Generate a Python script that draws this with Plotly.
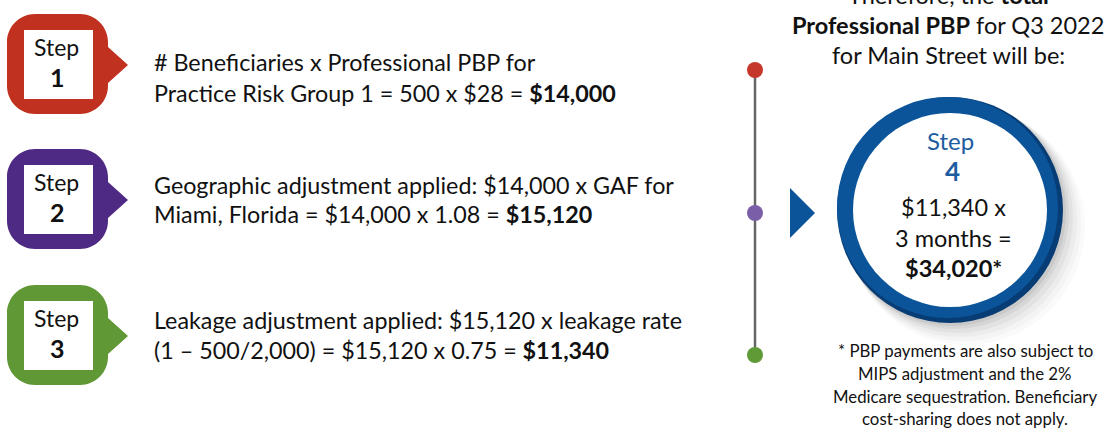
import plotly.graph_objects as go

# ---- content ----
step_numbers = ["1", "2", "3"]
step_colors = ["#c0311f", "#4f2a84", "#5f9834"]
dot_colors = ["#c4372a", "#7b5ea8", "#5f9a36"]
step_line1 = [
    "# Beneficiaries x Professional PBP for",
    "Geographic adjustment applied: $14,000 x GAF for",
    "Leakage adjustment applied: $15,120 x leakage rate",
]
step_line2 = [
    "Practice Risk Group 1 = 500 x $28 = <b>$14,000</b>",
    "Miami, Florida = $14,000 x 1.08 = <b>$15,120</b>",
    "(1 \u2013 500/2,000) = $15,120 x 0.75 = <b>$11,340</b>",
]
header_lines = [
    "Therefore, the <b>total</b>",
    "<b>Professional PBP</b> for Q3 2022",
    "for Main Street will be:",
]
circle_title = "Step"
circle_number = "4"
circle_lines = ["$11,340 x", "3 months =", "<b>$34,020*</b>"]
footnote_lines = [
    "* PBP payments are also subject to",
    "MIPS adjustment and the 2%",
    "Medicare sequestration. Beneficiary",
    "cost-sharing does not apply.",
]

W, H = 1107, 429
FONT = "Lato"
BLUE = "#0b5499"

fig = go.Figure()
shapes = []
ann = []


def rounded_badge(x0, y0, x1, y1, r, tipx, tipy, half):
    k = 0.55 * r
    p = (
        f"M {x0+r},{y0} L {x1-r},{y0} "
        f"C {x1-r+k},{y0} {x1},{y0+r-k} {x1},{y0+r} "
        f"L {x1},{tipy-half} L {tipx},{tipy} L {x1},{tipy+half} "
        f"L {x1},{y1-r} "
        f"C {x1},{y1-r+k} {x1-r+k},{y1} {x1-r},{y1} "
        f"L {x0+r},{y1} "
        f"C {x0+r-k},{y1} {x0},{y1-r+k} {x0},{y1-r} "
        f"L {x0},{y0+r} "
        f"C {x0},{y0+r-k} {x0+r-k},{y0} {x0+r},{y0} Z"
    )
    return p


centers = [64, 199, 335]
text_rows = [(62, 93), (185, 214), (320, 350)]
for i, num in enumerate(step_numbers):
    cy = centers[i]
    x0, x1 = 7, 108
    y0, y1 = cy - 50, cy + 50
    shapes.append(dict(type="path", path=rounded_badge(x0, y0, x1, y1, 28, 128, cy + 1, 18),
                       fillcolor=step_colors[i], line=dict(width=0), layer="below"))
    shapes.append(dict(type="rect", x0=24, x1=93, y0=cy - 34, y1=cy + 35,
                       fillcolor="white", line=dict(width=0)))
    ann.append(dict(x=56, y=cy - 17, text="Step", showarrow=False,
                    font=dict(family=FONT, size=23, color="#111"), xanchor="center", yanchor="middle"))
    ann.append(dict(x=57, y=cy + 13, text=f"<b>{num}</b>", showarrow=False,
                    font=dict(family=FONT, size=25, color="#111"), xanchor="center", yanchor="middle"))
    ya, yb = text_rows[i]
    ann.append(dict(x=152, y=ya, text=step_line1[i], showarrow=False,
                    font=dict(family=FONT, size=23.3, color="#111"), xanchor="left", yanchor="middle"))
    ann.append(dict(x=152, y=yb, text=step_line2[i], showarrow=False,
                    font=dict(family=FONT, size=23.3, color="#111"), xanchor="left", yanchor="middle"))

# timeline
dot_y = [70, 213, 355]
shapes.append(dict(type="line", x0=755, x1=755, y0=dot_y[0], y1=dot_y[-1],
                   line=dict(color="#666666", width=2.5), layer="below"))
for c, yy in zip(dot_colors, dot_y):
    shapes.append(dict(type="circle", x0=747, x1=763, y0=yy - 8, y1=yy + 8,
                       fillcolor=c, line=dict(width=0)))

# arrow triangle
shapes.append(dict(type="path", path="M 790,188 L 815,213 L 790,238 Z",
                   fillcolor=BLUE, line=dict(width=0)))

# circle with soft shadow
cx, cy, R = 950, 210, 113
for d, op in [(22, 0.02), (18, 0.025), (14, 0.03), (10, 0.04), (6, 0.05), (3, 0.06)]:
    shapes.append(dict(type="circle", x0=cx - R + d * 0.5, x1=cx + R + d, y0=cy - R + d * 0.5, y1=cy + R + d,
                       fillcolor=f"rgba(0,0,0,{op})", line=dict(width=0)))
shapes.append(dict(type="circle", x0=cx - R, x1=cx + R, y0=cy - R, y1=cy + R,
                   fillcolor="#073c74", line=dict(width=0)))
shapes.append(dict(type="circle", x0=cx - R, x1=cx + R - 5, y0=cy - R, y1=cy + R - 5,
                   fillcolor=BLUE, line=dict(width=0)))
r_in = R - 16
shapes.append(dict(type="circle", x0=cx - r_in, x1=cx + r_in, y0=cy - r_in, y1=cy + r_in,
                   fillcolor="white", line=dict(width=0)))

ann.append(dict(x=cx, y=140, text=circle_title, showarrow=False,
                font=dict(family=FONT, size=24, color="#1d5c9f"), xanchor="center", yanchor="middle"))
ann.append(dict(x=cx + 2, y=171, text=f"<b>{circle_number}</b>", showarrow=False,
                font=dict(family=FONT, size=26, color="#1d5c9f"), xanchor="center", yanchor="middle"))
for t, yy in zip(circle_lines, [207, 238, 268]):
    ann.append(dict(x=cx + 3, y=yy, text=t, showarrow=False,
                    font=dict(family=FONT, size=23.5, color="#111"), xanchor="center", yanchor="middle"))

# header (first line partly above the top edge, as in the source)
for t, yy in zip(header_lines, [-5, 25, 55]):
    ann.append(dict(x=948, y=1 - yy / H, yref="paper", text=t, showarrow=False,
                    font=dict(family=FONT, size=23.5, color="#111"), xanchor="center", yanchor="middle"))

for t, yy in zip(footnote_lines, [350, 373, 396, 418]):
    ann.append(dict(x=965, y=yy, text=t, showarrow=False,
                    font=dict(family=FONT, size=16.8, color="#111"), xanchor="center", yanchor="middle"))

fig.update_layout(
    width=W, height=H, margin=dict(l=0, r=0, t=0, b=0),
    paper_bgcolor="white", plot_bgcolor="white",
    xaxis=dict(range=[0, W], visible=False, fixedrange=True),
    yaxis=dict(range=[H, 0], visible=False, fixedrange=True),
    shapes=shapes, annotations=ann, showlegend=False,
)
fig.write_html("out.html", config={"displayModeBar": False},
               post_script="document.body.style.margin='0';document.body.style.overflow='hidden';")
